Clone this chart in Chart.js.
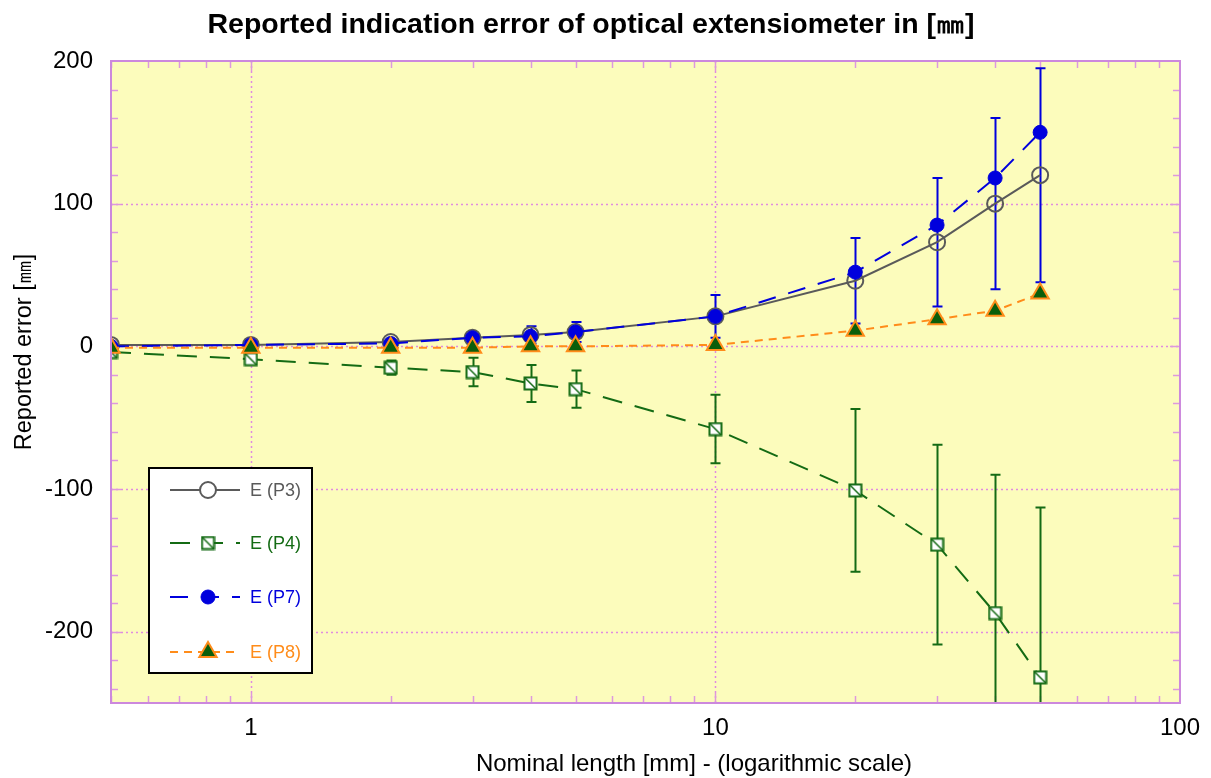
<!DOCTYPE html>
<html>
<head>
<meta charset="utf-8">
<script src="https://cdn.jsdelivr.net/npm/chart.js@4/dist/chart.umd.min.js"></script>
<style>
  html, body { margin: 0; padding: 0; background: #fff; }
  #wrap { width: 1211px; height: 778px; }
</style>
</head>
<body>
<div id="wrap"><canvas id="myChart" width="1211" height="778"></canvas></div>
<script>
// nominal lengths [mm]
const lengths = [0.5, 1, 2, 3, 4, 5, 10, 20, 30, 40, 50];

// reported errors per participant
const errP3 = [1, 1, 3, 6, 8, 10, 21, 46, 73, 100, 120];
const errP4 = [-4, -9, -15, -18, -26, -30, -58, -101, -139, -187, -232];
const errP7 = [0, 1, 2, 6, 7, 10, 21, 52, 85, 118, 150];
const errP8 = [-1, -1, -1, -1, 0, 0, 1, 11, 19, 25, 37];

// uncertainty (half width of error bars)
const uncP3 = [0, 0, 0, 0, 6, 7, 15, 30, 45, 60, 75];
const uncP4 = [0, 0, 5, 10, 13, 13, 24, 57, 70, 97, 119];

const xTickLabels = [1, 10, 100];
const yTickLabels = [-200, -100, 0, 100, 200];

const FONT = '"Liberation Sans", Arial, sans-serif';
const GREY = '#5a5a5a';
const GREEN = '#146b14';
const BLUE = '#0000dd';
const ORANGE = '#ff8c1a';
const PINK = '#e08ae0';

// square with a diagonal
function squareMark() {
    var c = document.createElement('canvas');
    c.width = 15; c.height = 15;
    var g = c.getContext('2d');
    g.fillStyle = '#ffffff';
    g.fillRect(1, 1, 13, 13);
    g.strokeStyle = GREEN;
    g.lineWidth = 2;
    g.strokeRect(1.5, 1.5, 12, 12);
    g.beginPath();
    g.moveTo(2, 2); g.lineTo(13, 13);
    g.lineWidth = 1.5;
    g.stroke();
    return c;
}
const sqMark = squareMark();

function pts(ys) {
    return lengths.map(function (x, i) { return { x: x, y: ys[i] }; });
}

// plot background, grid, inner ticks and frame
const frame = {
    id: 'frame',
    beforeDatasetsDraw(chart) {
        const ctx = chart.ctx, a = chart.chartArea;
        const xs = chart.scales.x, ys = chart.scales.y;
        ctx.save();
        ctx.fillStyle = '#fcfcbc';
        ctx.fillRect(a.left, a.top, a.right - a.left, a.bottom - a.top);

        // dotted grid at major values
        ctx.strokeStyle = PINK;
        ctx.lineWidth = 1.5;
        ctx.setLineDash([2, 3]);
        [1, 10].forEach(function (v) {
            var px = Math.round(xs.getPixelForValue(v)) + 0.5;
            ctx.beginPath(); ctx.moveTo(px, a.top); ctx.lineTo(px, a.bottom); ctx.stroke();
        });
        [-200, -100, 0, 100].forEach(function (v) {
            var py = Math.round(ys.getPixelForValue(v)) + 0.5;
            ctx.beginPath(); ctx.moveTo(a.left, py); ctx.lineTo(a.right, py); ctx.stroke();
        });
        ctx.setLineDash([]);

        // ticks
        ctx.strokeStyle = '#dd99dd';
        ctx.lineWidth = 1.5;
        for (var d = 0.1; d < 100; d *= 10) {
            for (var k = 1; k < 10; k++) {
                var v = d * k;
                if (v < 0.5 || v > 100) continue;
                var px = Math.round(xs.getPixelForValue(v)) + 0.5;
                var len = (k === 1) ? 10 : 7;
                ctx.beginPath();
                ctx.moveTo(px, a.bottom); ctx.lineTo(px, a.bottom - len);
                ctx.moveTo(px, a.top); ctx.lineTo(px, a.top + len);
                ctx.stroke();
            }
        }
        for (var yv = -240; yv < 200; yv += 20) {
            var py = Math.round(ys.getPixelForValue(yv)) + 0.5;
            var l2 = (yv % 100 === 0) ? 10 : 7;
            ctx.beginPath();
            ctx.moveTo(a.left, py); ctx.lineTo(a.left + l2, py);
            ctx.moveTo(a.right, py); ctx.lineTo(a.right - l2, py);
            ctx.stroke();
        }
        ctx.restore();

        // error bars
        drawBars(chart, errP3, uncP3, BLUE);
        drawBars(chart, errP4, uncP4, GREEN);
    },
    afterDatasetsDraw(chart) {
        const ctx = chart.ctx, a = chart.chartArea;
        ctx.save();
        ctx.strokeStyle = '#cc88dd';
        ctx.lineWidth = 2;
        ctx.strokeRect(a.left, a.top, a.right - a.left, a.bottom - a.top);

        // axis titles
        ctx.fillStyle = '#000';
        ctx.textAlign = 'center';
        ctx.textBaseline = 'middle';
        ctx.font = '24px ' + FONT;
        ctx.fillText('Nominal length [mm] - (logarithmic scale)', 694, 764);
        ctx.translate(25, 352);
        ctx.rotate(-Math.PI / 2);
        ctx.font = '23.5px ' + FONT;
        ctx.fillText('Reported error [㎜]', 0, 0);
        ctx.restore();
    }
};

function drawBars(chart, vals, unc, color) {
    const ctx = chart.ctx, a = chart.chartArea;
    const xs = chart.scales.x, ys = chart.scales.y;
    ctx.save();
    ctx.beginPath();
    ctx.rect(a.left, a.top, a.right - a.left, a.bottom - a.top);
    ctx.clip();
    ctx.strokeStyle = color;
    ctx.lineWidth = 2;
    lengths.forEach(function (x, i) {
        if (!unc[i]) return;
        var px = Math.round(xs.getPixelForValue(x)) + 0.5;
        var top = ys.getPixelForValue(vals[i] + unc[i]);
        var bot = ys.getPixelForValue(vals[i] - unc[i]);
        ctx.beginPath();
        ctx.moveTo(px, top); ctx.lineTo(px, bot);
        ctx.moveTo(px - 5, top); ctx.lineTo(px + 5, top);
        ctx.moveTo(px - 5, bot); ctx.lineTo(px + 5, bot);
        ctx.stroke();
    });
    ctx.restore();
}

// boxed legend inside the plot
const boxLegend = {
    id: 'boxLegend',
    afterDraw(chart) {
        const ctx = chart.ctx;
        const x0 = 149, y0 = 468, w = 163, h = 205;
        ctx.save();
        ctx.fillStyle = '#ffffff';
        ctx.fillRect(x0, y0, w, h);
        ctx.strokeStyle = '#000000';
        ctx.lineWidth = 2;
        ctx.strokeRect(x0, y0, w, h);
        const rows = [490, 543, 597, 652];
        chart.data.datasets.forEach(function (ds, i) {
            var y = rows[i];
            ctx.strokeStyle = ds.borderColor;
            ctx.lineWidth = 2;
            ctx.setLineDash(ds.borderDash || []);
            ctx.beginPath(); ctx.moveTo(170, y); ctx.lineTo(240, y); ctx.stroke();
            ctx.setLineDash([]);
            // marker
            if (ds.pointStyle === 'circle') {
                ctx.beginPath();
                ctx.arc(208, y, ds.pointRadius, 0, Math.PI * 2);
                ctx.fillStyle = (ds.pointBackgroundColor === 'rgba(0,0,0,0)') ? '#ffffff' : ds.pointBackgroundColor;
                ctx.fill();
                ctx.strokeStyle = ds.pointBorderColor;
                ctx.lineWidth = ds.pointBorderWidth;
                ctx.stroke();
            } else if (ds.pointStyle === 'triangle') {
                var r = ds.pointRadius;
                ctx.beginPath();
                ctx.moveTo(208, y - r);
                ctx.lineTo(208 + r * 0.866, y + r * 0.5);
                ctx.lineTo(208 - r * 0.866, y + r * 0.5);
                ctx.closePath();
                ctx.fillStyle = ds.pointBackgroundColor; ctx.fill();
                ctx.strokeStyle = ds.pointBorderColor;
                ctx.lineWidth = ds.pointBorderWidth; ctx.stroke();
            } else {
                ctx.drawImage(sqMark, 208 - 7.5, y - 7.5);
            }
            ctx.fillStyle = ds.borderColor;
            ctx.font = '18px ' + FONT;
            ctx.textBaseline = 'middle';
            ctx.fillText(ds.label, 250, y + 1);
        });
        ctx.restore();
    }
};

const ctx = document.getElementById('myChart');

new Chart(ctx, {
    type: 'line',
    data: {
        datasets: [{
            label: 'E (P3)',
            data: pts(errP3),
            borderColor: GREY,
            borderWidth: 2,
            pointStyle: 'circle',
            pointRadius: 8,
            pointBackgroundColor: 'rgba(0,0,0,0)',
            pointBorderColor: GREY,
            pointBorderWidth: 2,
            order: 2
        }, {
            label: 'E (P4)',
            data: pts(errP4),
            borderColor: GREEN,
            borderWidth: 2,
            borderDash: [20, 13],
            pointStyle: sqMark,
            pointRadius: 7,
            order: 3
        }, {
            label: 'E (P7)',
            data: pts(errP7),
            borderColor: BLUE,
            borderWidth: 2,
            borderDash: [18, 13],
            pointStyle: 'circle',
            pointRadius: 7,
            pointBackgroundColor: BLUE,
            pointBorderColor: BLUE,
            pointBorderWidth: 1,
            order: 1
        }, {
            label: 'E (P8)',
            data: pts(errP8),
            borderColor: ORANGE,
            borderWidth: 2,
            borderDash: [8, 6],
            pointStyle: 'triangle',
            pointRadius: 10,
            pointBackgroundColor: '#0b5e0b',
            pointBorderColor: ORANGE,
            pointBorderWidth: 2,
            order: 0
        }]
    },
    options: {
        responsive: false,
        animation: false,
        layout: { padding: { left: 0, right: 29, top: 0, bottom: 0 } },
        plugins: {
            legend: { display: false },
            tooltip: { enabled: false },
            title: {
                display: true,
                text: 'Reported indication error of optical extensiometer in [㎜]',
                color: '#000',
                font: { family: FONT, size: 28.5, weight: 'bold', lineHeight: 1.2 },
                padding: { top: 8, bottom: 18.8 }
            }
        },
        scales: {
            x: {
                type: 'logarithmic',
                min: 0.5,
                max: 100,
                afterBuildTicks: function (s) {
                    s.ticks = xTickLabels.map(function (v) { return { value: v }; });
                },
                afterFit: function (s) { s.height = 75; },
                grid: { display: false, drawTicks: false },
                border: { display: false },
                ticks: {
                    color: '#000',
                    padding: 11,
                    maxRotation: 0,
                    autoSkip: false,
                    font: { family: FONT, size: 24 },
                    callback: function (v) { return String(v); }
                }
            },
            y: {
                min: -250,
                max: 200,
                afterBuildTicks: function (s) {
                    s.ticks = yTickLabels.map(function (v) { return { value: v }; });
                },
                afterFit: function (s) { s.width = 111; },
                grid: { display: false, drawTicks: false },
                border: { display: false },
                ticks: {
                    color: '#000',
                    padding: 18,
                    font: { family: FONT, size: 24 }
                }
            }
        }
    },
    plugins: [frame, boxLegend]
});
</script>
</body>
</html>
